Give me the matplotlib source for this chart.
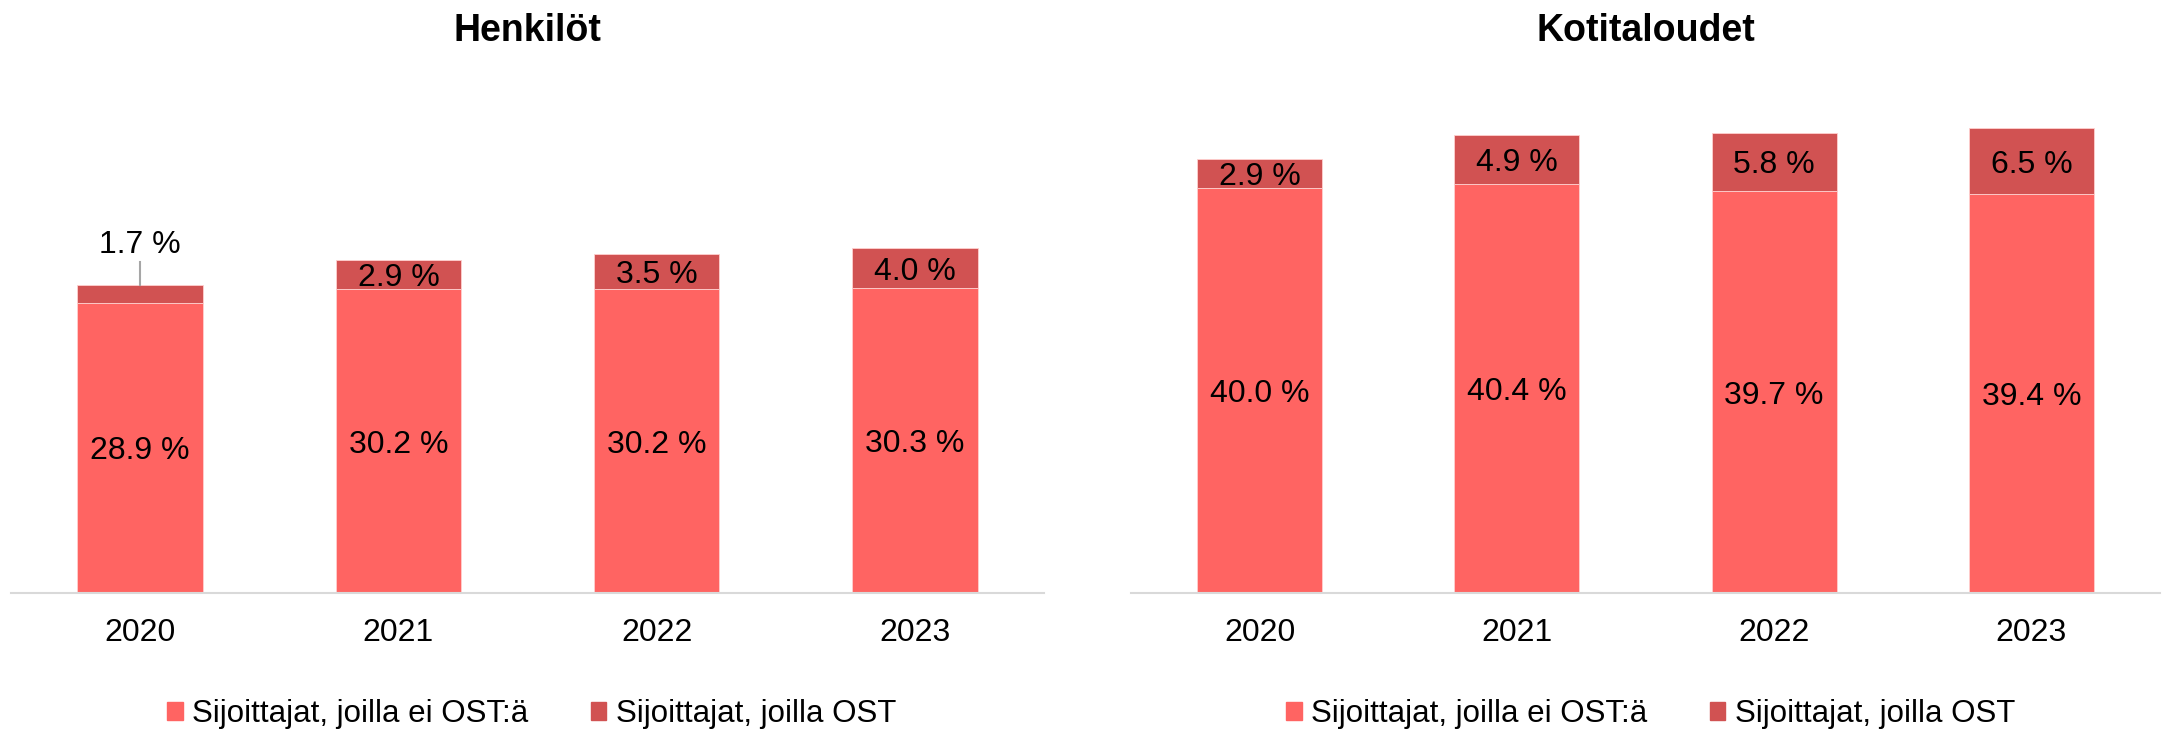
import matplotlib
matplotlib.use("Agg")
import matplotlib.pyplot as plt
from matplotlib.patches import Patch

# --- data ---
years = ["2020", "2021", "2022", "2023"]
henk_ei = [28.9, 30.2, 30.2, 30.3]
henk_ost = [1.7, 2.9, 3.5, 4.0]
koti_ei = [40.0, 40.4, 39.7, 39.4]
koti_ost = [2.9, 4.9, 5.8, 6.5]
titles = ["Henkilöt", "Kotitaloudet"]
legend_labels = ["Sijoittajat, joilla ei OST:ä", "Sijoittajat, joilla OST"]

c_light = "#FF6462"
c_dark = "#D15252"

plt.rcParams["font.family"] = ["Liberation Sans", "DejaVu Sans"]

W, H = 2163, 730
fig = plt.figure(figsize=(W / 100, H / 100), dpi=100)

def fx(px):
    return px / W

def fy(py):
    return 1 - py / H

# axes boxes in pixels: left, right, top, bottom
boxes = [(11, 1044, 80, 593), (1131, 2160, 80, 593)]
px_per_unit = [10.05, 10.12]

panels = [(henk_ei, henk_ost), (koti_ei, koti_ost)]
legend_x = [167, 1286]

for i, ((base, top), (l, r, t, b)) in enumerate(zip(panels, boxes)):
    ax = fig.add_axes([fx(l), fy(b), fx(r - l), (b - t) / H])
    x = range(len(years))
    ax.bar(x, base, width=0.485, color=c_light, edgecolor="#ffd0cf", linewidth=0.6)
    ax.bar(x, top, width=0.485, bottom=base, color=c_dark, edgecolor="#ffd0cf", linewidth=0.6)

    for xi, b0, t0 in zip(x, base, top):
        ax.text(xi, b0 / 2, f"{b0:.1f} %", ha="center", va="center_baseline", fontsize=23)
        if t0 < 2.0:
            # small segment: label above with a leader line
            ax.plot([xi, xi], [b0 + t0, b0 + t0 + 2.3], color="#a6a6a6", lw=1.5)
            ax.text(xi, b0 + t0 + 4.4, f"{t0:.1f} %", ha="center", va="center_baseline", fontsize=23)
        else:
            ax.text(xi, b0 + t0 / 2, f"{t0:.1f} %", ha="center", va="center_baseline", fontsize=23)

    ax.set_xlim(-0.5, 3.5)
    ax.set_ylim(0, (b - t) / px_per_unit[i])
    ax.set_xticks(list(x))
    ax.set_xticklabels(years, fontsize=23)
    ax.tick_params(axis="x", length=0, pad=18)
    ax.set_yticks([])
    for s in ["left", "right", "top"]:
        ax.spines[s].set_visible(False)
    ax.spines["bottom"].set_color("#d9d9d9")
    ax.spines["bottom"].set_linewidth(1.5)

    fig.text(fx((l + r) / 2), fy(41), titles[i], ha="center", va="baseline",
             fontsize=27, fontweight="bold")

    handles = [Patch(color=c_light), Patch(color=c_dark)]
    fig.legend(handles, legend_labels, loc="center left",
               bbox_to_anchor=(fx(legend_x[i]), fy(714)), ncol=2, frameon=False,
               fontsize=22.5, handlelength=0.5, handleheight=0.5,
               handletextpad=0.3, columnspacing=2.0, borderpad=0, borderaxespad=0)

fig.savefig("out.png", dpi=100)
